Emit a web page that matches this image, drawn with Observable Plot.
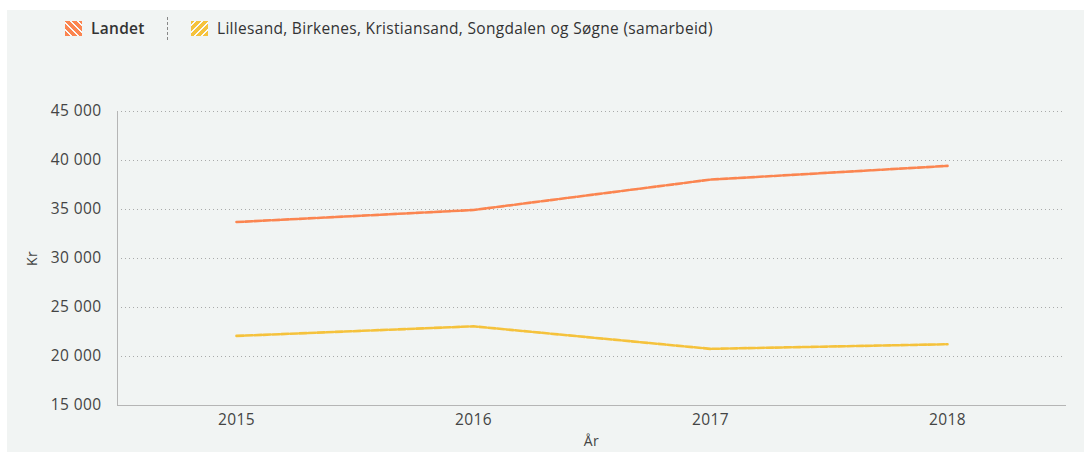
<!DOCTYPE html>
<html>
<head>
<meta charset="utf-8">
<script src="https://cdn.jsdelivr.net/npm/d3@7"></script>
<script src="https://cdn.jsdelivr.net/npm/@observablehq/plot@0.6"></script>
<style>
  html, body { margin: 0; padding: 0; background: #fff; }
  body { width: 1084px; height: 452px; overflow: hidden; position: relative; font-family: "Open Sans", sans-serif; }
  #panel { position: absolute; left: 7px; top: 10px; width: 1077px; height: 442px; background: #f1f4f3; }
  #legend { position: absolute; left: 0; top: 0; height: 40px; width: 100%; font-size: 15.5px; color: #333; letter-spacing: 0.3px; }
  .item { position: absolute; top: 7px; display: flex; align-items: center; height: 22px; }
  .sw { width: 17px; height: 15px; margin-right: 9px; }
  .divider { position: absolute; top: 7px; width: 0; height: 23px; border-left: 1px dashed #888; }
  #chart { position: absolute; left: 0; top: 50px; }
</style>
</head>
<body>
<div id="panel">
  <div id="legend"></div>
  <div id="chart"></div>
</div>
<script>
const years = ["2015", "2016", "2017", "2018"];
const landet = [33720, 34950, 38050, 39450];
const samarbeid = [22100, 23080, 20780, 21250];
const seriesNames = ["Landet", "Lillesand, Birkenes, Kristiansand, Songdalen og Søgne (samarbeid)"];
const seriesColors = ["#fb8550", "#f5c23c"];
const yTicks = [15000, 20000, 25000, 30000, 35000, 40000, 45000];

const data = [];
years.forEach((y, i) => {
  data.push({year: y, value: landet[i], series: seriesNames[0]});
  data.push({year: y, value: samarbeid[i], series: seriesNames[1]});
});

// legend
const legend = document.getElementById("legend");
const positions = [58, 184];
seriesNames.forEach((name, i) => {
  const it = document.createElement("div");
  it.className = "item";
  it.style.left = positions[i] + "px";
  const sw = document.createElement("div");
  sw.className = "sw";
  const c = seriesColors[i];
  const dir = i === 0 ? "45deg" : "-45deg";
  sw.style.background = `repeating-linear-gradient(${dir}, ${c} 0px, ${c} 4px, rgba(255,255,255,0.55) 4px, rgba(255,255,255,0.55) 5px)`;
  const t = document.createElement("span");
  t.textContent = name;
  if (i === 0) t.style.fontWeight = "600";
  it.appendChild(sw);
  it.appendChild(t);
  legend.appendChild(it);
});
const div = document.createElement("div");
div.className = "divider";
div.style.left = "160px";
legend.appendChild(div);

const loc = d3.formatLocale({decimal: ",", thousands: " ", grouping: [3], currency: ["", " kr"]});
const fmt = loc.format(",d");

const plot = Plot.plot({
  width: 1077,
  height: 392,
  marginLeft: 110,
  marginRight: 19,
  marginTop: 51,
  marginBottom: 47,
  style: {background: "transparent", fontFamily: "Open Sans, sans-serif", fontSize: "15.5px", color: "#444", letterSpacing: "0.4px"},
  x: {type: "point", domain: years, padding: 0.5, label: null},
  y: {domain: [15000, 45000], label: null},
  color: {domain: seriesNames, range: seriesColors},
  marks: [
    Plot.gridY(yTicks.slice(1), {stroke: "#8a8a8a", strokeOpacity: 0.7, strokeDasharray: "1,3"}),
    Plot.frame({anchor: "left", stroke: "#b5b5b5"}),
    Plot.frame({anchor: "bottom", stroke: "#b5b5b5"}),
    Plot.axisY({ticks: yTicks, tickFormat: fmt, tickSize: 0, tickPadding: 16, label: null, fontSize: 15.5}),
    Plot.axisY({ticks: [], label: "Kr", labelAnchor: "center", labelArrow: "none", labelOffset: 90, fontSize: 14}),
    Plot.axisX({tickSize: 0, tickPadding: 8, label: null, fontSize: 15.5}),
    Plot.axisX({ticks: [], label: "År", labelAnchor: "center", labelArrow: "none", labelOffset: 40, fontSize: 14}),
    Plot.line(data, {x: "year", y: "value", z: "series", stroke: "series", strokeWidth: 2.6, strokeDasharray: "7,2"})
  ]
});
document.getElementById("chart").appendChild(plot);
</script>
</body>
</html>
